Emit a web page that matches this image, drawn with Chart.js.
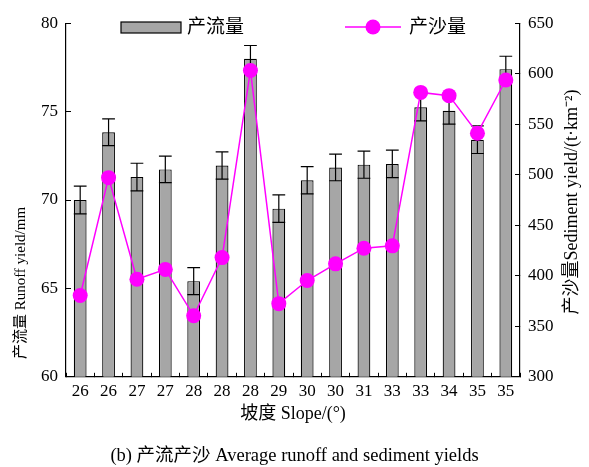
<!DOCTYPE html>
<html>
<head>
    <title>Average runoff and sediment yields</title>
    <style>
        html, body { margin: 0; padding: 0; background: #fff; }
        #chart-container { width: 589px; height: 467px; }
    </style>
</head>
<body>
    <div id="chart-container">
        <canvas id="myChart"></canvas>
    </div>

    <script src="https://cdn.jsdelivr.net/npm/chart.js"></script>
    <script>
        // Data
        const slopes = ['26', '26', '27', '27', '28', '28', '28', '29', '30', '30', '31', '33', '33', '34', '35', '35'];
        const runoff = [70.0, 73.83, 71.3, 71.73, 65.41, 71.95, 77.99, 69.51, 71.12, 71.84, 72.0, 72.04, 75.25, 75.05, 73.41, 77.4];
        const runoffErr = [0.78, 0.76, 0.78, 0.75, 0.76, 0.77, 0.75, 0.78, 0.77, 0.75, 0.77, 0.78, 0.78, 0.76, 0.78, 0.73];
        const sediment = [380.5, 497.1, 396.6, 406.3, 360.4, 418.0, 603.2, 372.4, 395.3, 411.8, 427.3, 429.6, 581.5, 578.3, 541.1, 593.8];

        const serif = "'Liberation Serif', 'Times New Roman', 'Noto Sans CJK SC', serif";
        const barGray = '#a6a6a6';
        const magenta = '#ff00ff';

        // Error bars on top of the runoff bars
        const errorBars = {
            id: 'errorBars',
            afterDatasetDraw(chart, args) {
                if (args.index !== 1) return;
                const ctx = chart.ctx;
                const y = chart.scales.y;
                ctx.save();
                ctx.strokeStyle = '#000';
                ctx.lineWidth = 1.2;
                args.meta.data.forEach((bar, i) => {
                    const half = bar.width / 2;
                    const yTop = y.getPixelForValue(runoff[i] + runoffErr[i]);
                    const yBot = y.getPixelForValue(runoff[i] - runoffErr[i]);
                    ctx.beginPath();
                    ctx.moveTo(bar.x, yTop);
                    ctx.lineTo(bar.x, yBot);
                    ctx.moveTo(bar.x - half, yTop);
                    ctx.lineTo(bar.x + half, yTop);
                    ctx.moveTo(bar.x - half, yBot);
                    ctx.lineTo(bar.x + half, yBot);
                    ctx.stroke();
                });
                ctx.restore();
            }
        };

        // Legend and the two rotated axis titles
        const extras = {
            id: 'extras',
            afterDraw(chart) {
                const ctx = chart.ctx;
                ctx.save();
                ctx.fillStyle = '#000';
                ctx.textBaseline = 'middle';
                ctx.font = '19px ' + serif;

                // runoff legend item
                ctx.fillStyle = barGray;
                ctx.fillRect(121, 22, 60, 11);
                ctx.strokeStyle = '#000';
                ctx.lineWidth = 1.2;
                ctx.strokeRect(121, 22, 60, 11);
                ctx.fillStyle = '#000';
                ctx.textAlign = 'left';
                ctx.fillText(chart.data.datasets[1].label, 187, 28);

                // sediment legend item
                ctx.strokeStyle = magenta;
                ctx.lineWidth = 1.5;
                ctx.beginPath();
                ctx.moveTo(345, 27);
                ctx.lineTo(401, 27);
                ctx.stroke();
                ctx.fillStyle = magenta;
                ctx.beginPath();
                ctx.arc(373, 27, 7.5, 0, Math.PI * 2);
                ctx.fill();
                ctx.fillStyle = '#000';
                ctx.fillText(chart.data.datasets[0].label, 409, 28);

                // axis titles, both read bottom to top
                ctx.textAlign = 'center';
                ctx.font = '15px ' + serif;
                ctx.save();
                ctx.translate(21, 283);
                ctx.rotate(-Math.PI / 2);
                ctx.fillText('产流量 Runoff yield/mm', 0, 0);
                ctx.restore();

                ctx.font = '18px ' + serif;
                ctx.save();
                ctx.translate(572, 202);
                ctx.rotate(-Math.PI / 2);
                ctx.fillText('产沙量Sediment yield/(t·km⁻²)', 0, 0);
                ctx.restore();

                ctx.restore();
            }
        };

        const ctx = document.getElementById('myChart').getContext('2d');
        const myChart = new Chart(ctx, {
            data: {
                labels: slopes,
                datasets: [{
                    type: 'line',
                    label: '产沙量',
                    data: sediment,
                    yAxisID: 'y1',
                    borderColor: magenta,
                    borderWidth: 1.5,
                    backgroundColor: magenta,
                    pointRadius: 7.5,
                    pointHoverRadius: 7.5,
                    pointBorderWidth: 0,
                    tension: 0,
                    order: 0
                }, {
                    type: 'bar',
                    label: '产流量',
                    data: runoff,
                    yAxisID: 'y',
                    backgroundColor: barGray,
                    borderColor: '#000',
                    borderWidth: 1.2,
                    categoryPercentage: 1,
                    barPercentage: 0.45,
                    order: 1
                }]
            },
            options: {
                responsive: true,
                maintainAspectRatio: false,
                animation: false,
                layout: { padding: { top: 16, left: 0, right: 0, bottom: 0 } },
                plugins: {
                    legend: { display: false },
                    tooltip: { enabled: false },
                    title: {
                        display: true,
                        position: 'bottom',
                        text: '(b) 产流产沙 Average runoff and sediment yields',
                        color: '#000',
                        font: { family: serif, size: 18.5, weight: 'normal' },
                        padding: 0
                    }
                },
                scales: {
                    x: {
                        afterFit(scale) { scale.height = 68; },
                        grid: { drawOnChartArea: false, offset: true, tickLength: -4, color: '#000' },
                        border: { display: true, color: '#000', width: 1.2 },
                        ticks: { color: '#000', font: { family: serif, size: 17 }, padding: 9, maxRotation: 0, autoSkip: false },
                        title: {
                            display: true,
                            text: '坡度 Slope/(°)',
                            color: '#000',
                            font: { family: serif, size: 18 },
                            padding: { top: 0, bottom: 20 }
                        }
                    },
                    y: {
                        position: 'left',
                        min: 60,
                        max: 80,
                        afterFit(scale) { scale.width = 66; },
                        grid: { drawOnChartArea: false, tickLength: -5, color: '#000' },
                        border: { display: true, color: '#000', width: 1.2 },
                        ticks: { stepSize: 5, color: '#000', font: { family: serif, size: 17 }, padding: 13 }
                    },
                    y1: {
                        position: 'right',
                        min: 300,
                        max: 650,
                        afterFit(scale) { scale.width = 69; },
                        grid: { drawOnChartArea: false, tickLength: -5, color: '#000' },
                        border: { display: true, color: '#000', width: 1.2 },
                        ticks: { stepSize: 50, color: '#000', font: { family: serif, size: 17 }, padding: 13 }
                    }
                }
            },
            plugins: [errorBars, extras]
        });
    </script>
</body>
</html>
